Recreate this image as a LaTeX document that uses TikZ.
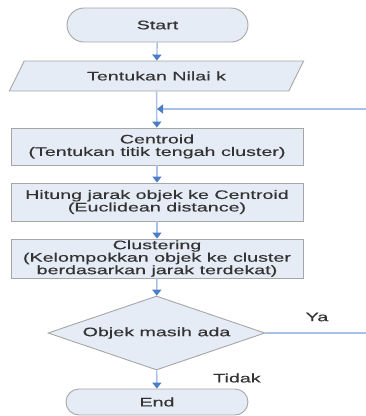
\documentclass[tikz,border=0pt]{standalone}
\usepackage{fontspec}
\newfontfamily\flowfont[FakeStretch=1.6,FakeBold=0.4]{Liberation Sans}
\usetikzlibrary{shapes.geometric,arrows.meta}
\definecolor{boxfill}{HTML}{E6ECF6}
\definecolor{boxline}{HTML}{A6A6A6}
\definecolor{linkline}{HTML}{A9C1E6}
\definecolor{tipblue}{HTML}{4A7CC8}
\definecolor{txt}{HTML}{333333}
\begin{document}
\begin{tikzpicture}[x=1pt,y=-1pt,
  base/.style={draw=boxline, fill=boxfill, line width=0.9pt, text=txt,
    font=\flowfont\fontsize{12.3}{12.5}\selectfont, align=center, inner sep=0pt},
  term/.style={base, rectangle, rounded corners=14pt},
  procbox/.style={base, rectangle, minimum width=292pt},
  io/.style={base, trapezium, trapezium left angle=49, trapezium right angle=131,
    trapezium stretches=true, minimum width=295pt, minimum height=30pt},
  decide/.style={base, diamond, aspect=2.93, minimum width=217pt, minimum height=74pt},
  link/.style={draw=linkline, line width=1.4pt,
    -{Triangle[color=tipblue, width=9pt, length=6pt]}},
  lbl/.style={text=txt, font=\flowfont\fontsize{12.3}{12.5}\selectfont, inner sep=0pt}
]
\useasboundingbox (0,0) rectangle (366,416);
\clip (0,0) rectangle (366,416);
\node[term, minimum width=181pt, minimum height=34pt, rounded corners=17pt] (start) at (157.5,25) {Start};
\node[io] (input) at (156.5,76) {Tentukan Nilai k};
\node[procbox, minimum height=37pt] (centroid) at (157,146.5) {Centroid\\(Tentukan titik tengah cluster)};
\node[procbox, minimum height=38pt] (hitung) at (157,202) {Hitung jarak objek ke Centroid\\(Euclidean distance)};
\node[procbox, minimum height=39pt] (cluster) at (157,258.5) {Clustering\\(Kelompokkan objek ke cluster\\berdasarkan jarak terdekat)};
\node[decide] (dec) at (156.5,333) {Objek masih ada};
\node[term, minimum width=182pt, minimum height=26pt, rounded corners=13pt] (end) at (157,402) {End};
\coordinate (join) at (157,109);
\coordinate (turn) at (390,333);
\node[lbl] (ya) at (317,317) {Ya};
\node[lbl] (tidak) at (237,378) {Tidak};

\draw[link] (start) -- (input);
\draw[link] (input) -- (centroid);
\draw[link] (centroid) -- (hitung);
\draw[link] (hitung) -- (cluster);
\draw[link] (cluster) -- (dec);
\draw[link] (dec) -- (end);
\draw[link] (dec.east) -- (turn) |- (join);
\end{tikzpicture}
\end{document}
